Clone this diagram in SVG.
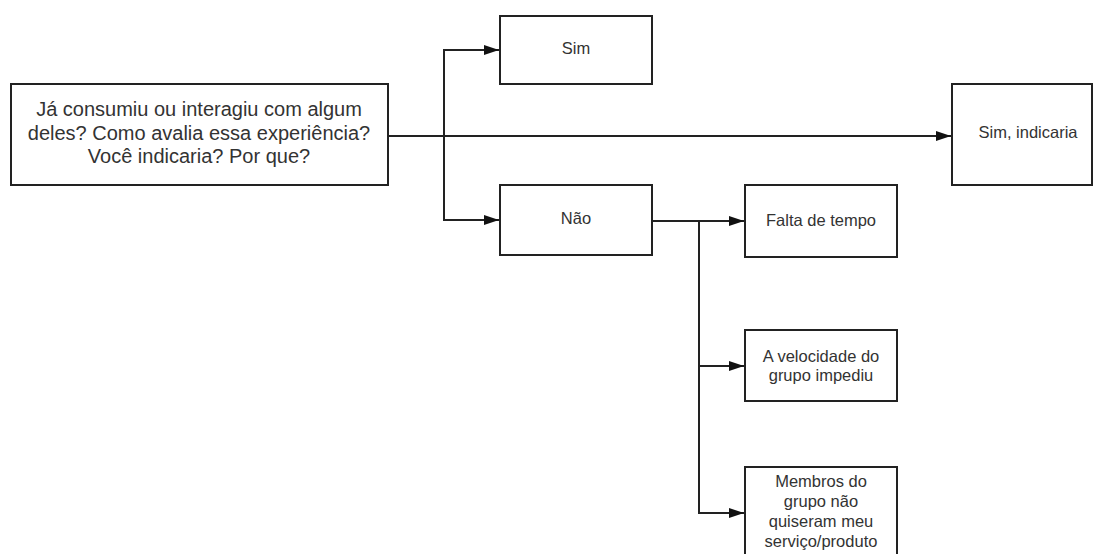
<svg xmlns="http://www.w3.org/2000/svg" width="1094" height="554" viewBox="0 0 1094 554">
  <style>
    .box { fill: #ffffff; stroke: #222222; stroke-width: 2; }
    .lbl { font-family: "Liberation Sans", Arial, sans-serif; fill: #333333; text-anchor: middle; }
    .big { font-size: 20px; }
    .sm { font-size: 16.5px; }
    .wire { fill: none; stroke: #222222; stroke-width: 2; }
  </style>
  <defs>
    <marker id="arrow" viewBox="0 0 15 10" refX="15" refY="5" markerWidth="15" markerHeight="10" markerUnits="userSpaceOnUse" orient="auto">
      <path d="M0,0 L15,5 L0,10 Z" fill="#111111"/>
    </marker>
  </defs>
  <rect width="1094" height="554" fill="#ffffff"/>

  <g id="connectors">
    <!-- question to "Sim, indicaria" -->
    <path class="wire" d="M388,136 L951,136" marker-end="url(#arrow)"/>
    <!-- branch to Sim / Não -->
    <path class="wire" d="M444,136 L444,50 L499,50" marker-end="url(#arrow)"/>
    <path class="wire" d="M444,136 L444,220 L499,220" marker-end="url(#arrow)"/>
    <!-- Não to reasons -->
    <path class="wire" d="M652,221 L744,221" marker-end="url(#arrow)"/>
    <path class="wire" d="M699,221 L699,366 L744,366" marker-end="url(#arrow)"/>
    <path class="wire" d="M699,366 L699,513 L744,513" marker-end="url(#arrow)"/>
  </g>

  <g id="question">
    <rect class="box" x="11" y="84" width="377" height="101"/>
    <text class="lbl big" x="199" y="116">Já consumiu ou interagiu com algum</text>
    <text class="lbl big" x="199" y="139.5">deles? Como avalia essa experiência?</text>
    <text class="lbl big" x="199" y="163">Você indicaria? Por que?</text>
  </g>

  <g id="sim">
    <rect class="box" x="500" y="16" width="152" height="68"/>
    <text class="lbl sm" x="576" y="54">Sim</text>
  </g>

  <g id="nao">
    <rect class="box" x="500" y="185" width="152" height="70"/>
    <text class="lbl sm" x="576" y="224">Não</text>
  </g>

  <g id="sim-indicaria">
    <rect class="box" x="952" y="84" width="140" height="101"/>
    <text class="lbl sm" x="1028" y="138">Sim, indicaria</text>
  </g>

  <g id="falta-tempo">
    <rect class="box" x="745" y="185" width="152" height="72"/>
    <text class="lbl sm" x="821" y="226">Falta de tempo</text>
  </g>

  <g id="velocidade">
    <rect class="box" x="745" y="330" width="152" height="71"/>
    <text class="lbl sm" x="821" y="362">A velocidade do</text>
    <text class="lbl sm" x="821" y="381">grupo impediu</text>
  </g>

  <g id="membros">
    <rect class="box" x="745" y="467" width="152" height="100"/>
    <text class="lbl sm" x="821" y="487">Membros do</text>
    <text class="lbl sm" x="821" y="507">grupo não</text>
    <text class="lbl sm" x="821" y="527">quiseram meu</text>
    <text class="lbl sm" x="821" y="547">serviço/produto</text>
  </g>
</svg>
